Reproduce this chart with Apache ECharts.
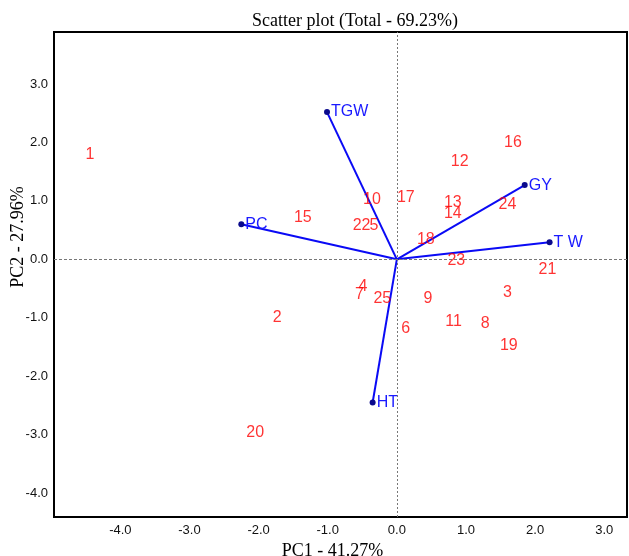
<!DOCTYPE html>
<html>
<head>
<meta charset="utf-8">
<script src="https://cdn.jsdelivr.net/npm/echarts@6/dist/echarts.min.js"></script>
<style>
html, body { margin: 0; padding: 0; background: #fff; }
#pca { width: 629px; height: 556px; }
</style>
</head>
<body>
<div id="pca"></div>
<script>
// genotype scores
var genotypes = ['1', '2', '3', '4', '5', '6', '7', '8', '9', '10', '11', '12', '13',
    '14', '15', '16', '17', '18', '19', '20', '21', '22', '23', '24', '25'];
var pc1 = [-4.44, -1.73, 1.60, -0.49, -0.33, 0.13, -0.54, 1.28, 0.45, -0.36, 0.82, 0.91, 0.81,
    0.81, -1.36, 1.68, 0.13, 0.42, 1.62, -2.05, 2.18, -0.51, 0.86, 1.60, -0.21];
var pc2 = [1.79, -0.99, -0.57, -0.47, 0.57, -1.18, -0.61, -1.10, -0.68, 1.03, -1.07, 1.68, 0.97,
    0.78, 0.71, 2.00, 1.06, 0.33, -1.48, -2.97, -0.17, 0.58, -0.03, 0.94, -0.68];

// trait vectors
var traits = ['TGW', 'PC', 'GY', 'T W', 'HT'];
var traitPc1 = [-1.01, -2.25, 1.85, 2.21, -0.35];
var traitPc2 = [2.52, 0.60, 1.27, 0.29, -2.45];

var xTicks = [-4, -3, -2, -1, 0, 1, 2, 3];
var yTicks = [-4, -3, -2, -1, 0, 1, 2, 3];

var myChart = echarts.init(document.getElementById('pca'));

var points = genotypes.map(function (g, i) {
    return { name: g, value: [pc1[i], pc2[i]] };
});

var series = [];

// zero reference lines
series.push({
    type: 'scatter',
    data: [],
    z: 1,
    markLine: {
        silent: true,
        symbol: 'none',
        animation: false,
        label: { show: false },
        data: [
            { xAxis: 0, lineStyle: { type: [2, 2], color: '#777', width: 1 } },
            { yAxis: 0, lineStyle: { type: [3, 2], color: '#777', width: 1 } }
        ]
    }
});

traits.forEach(function (t, i) {
    series.push({
        type: 'line',
        z: 2,
        symbol: 'circle',
        symbolSize: function (v, p) { return p.dataIndex === 1 ? 6 : 0; },
        itemStyle: { color: '#0a0a8c' },
        lineStyle: { color: '#0a0af5', width: 2 },
        data: [
            { value: [0, 0] },
            {
                value: [traitPc1[i], traitPc2[i]],
                label: {
                    show: true,
                    position: 'right',
                    distance: 1,
                    formatter: t,
                    color: '#1a1aff',
                    fontSize: 16,
                    fontFamily: 'Arial'
                }
            }
        ]
    });
});

series.push({
    type: 'scatter',
    z: 5,
    symbolSize: 1,
    itemStyle: { color: 'rgba(255,255,255,0)' },
    data: points,
    label: {
        show: true,
        position: 'inside',
        formatter: '{b}',
        color: '#ff0000',
        fontSize: 16,
        fontFamily: 'Arial'
    }
});

option = {
    animation: false,
    backgroundColor: '#fff',
    title: {
        text: 'Scatter plot (Total - 69.23%)',
        left: 350,
        textAlign: 'center',
        top: 7,
        textStyle: {
            fontFamily: 'Liberation Serif',
            fontSize: 18,
            fontWeight: 'normal',
            color: '#000'
        }
    },
    grid: {
        show: true,
        left: 54,
        right: 2,
        top: 32,
        bottom: 39,
        outerBoundsMode: 'none',
        containLabel: false,
        borderColor: '#000',
        borderWidth: 2
    },
    xAxis: {
        type: 'value',
        min: -4.96,
        max: 3.33,
        name: 'PC1 - 41.27%',
        nameLocation: 'middle',
        nameGap: 17,
        nameTextStyle: {
            fontFamily: 'Liberation Serif',
            fontSize: 18,
            color: '#000',
            padding: [0, 16, 0, 0]
        },
        axisLine: { show: false },
        axisTick: { show: false },
        splitLine: { show: false },
        axisLabel: {
            customValues: xTicks,
            formatter: function (v) { return v.toFixed(1); },
            color: '#111',
            fontSize: 13,
            fontFamily: 'Arial',
            margin: 7
        }
    },
    yAxis: {
        type: 'value',
        min: -4.41,
        max: 3.89,
        axisLine: { show: false },
        axisTick: { show: false },
        splitLine: { show: false },
        axisLabel: {
            customValues: yTicks,
            formatter: function (v) { return v.toFixed(1); },
            color: '#111',
            fontSize: 13,
            fontFamily: 'Arial',
            margin: 6
        }
    },
    graphic: [{
        type: 'text',
        x: 18,
        y: 237,
        rotation: Math.PI / 2,
        style: {
            text: 'PC2 - 27.96%',
            fontFamily: 'Liberation Serif',
            fontSize: 18,
            fill: '#000',
            align: 'center',
            verticalAlign: 'middle'
        }
    }],
    series: series
};
myChart.setOption(option);
</script>
</body>
</html>
